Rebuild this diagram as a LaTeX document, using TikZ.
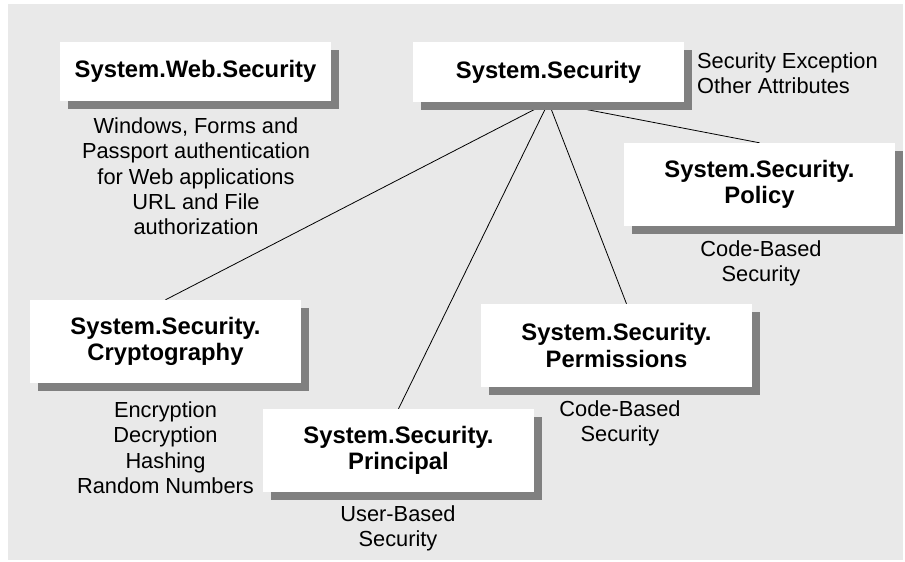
\documentclass[tikz,border=0pt]{standalone}
\usepackage{fontspec}
\setmainfont{Liberation Sans}
\usetikzlibrary{shadows}
\definecolor{bggray}{RGB}{233,233,233}
\definecolor{shadowgray}{RGB}{128,128,128}
\pgfdeclarelayer{back}
\pgfdeclarelayer{mid}
\pgfsetlayers{back,mid,main}
\begin{document}
\begin{tikzpicture}[x=1pt,y=-1pt,
  box/.style={fill=white, align=center, inner sep=0pt, minimum width=271pt,
    font=\fontsize{23.8}{26.5}\selectfont\bfseries,
    general shadow={fill=shadowgray, shadow xshift=8pt, shadow yshift=-8pt}},
  desc/.style={align=center, inner sep=0pt, font=\fontsize{21.8}{25.4}\selectfont, anchor=north},
  link/.style={draw=black, line width=0.8pt}]
\useasboundingbox (0,0) rectangle (905,562);
\begin{pgfonlayer}{back}
  \fill[white] (0,0) rectangle (905,562);
  \fill[bggray] (8,4) rectangle (903,560);
\end{pgfonlayer}

\node[box, minimum height=59pt] (web) at (195.5,71.5) {System.Web.Security};
\node[box, minimum height=60pt] (sys) at (548.5,72) {System.Security};
\node[box, minimum height=83pt] (pol) at (759.5,184.5) {System.Security.\\Policy};
\node[box, minimum height=83pt] (cry) at (165.5,341.5) {System.Security.\\Cryptography};
\node[box, minimum height=83pt] (perm) at (616.5,345.5) {System.Security.\\Permissions};
\node[box, minimum height=83pt] (pri) at (398.5,450.5) {System.Security.\\Principal};

\node[desc] (webd) at (196,117.4) {Windows, Forms and\\Passport authentication\\for Web applications\\URL and File\\authorization};
\node[desc, anchor=north west, align=left] (sysd) at (697,52.4) {Security Exception\\Other Attributes};
\node[desc] (pold) at (761,240.4) {Code-Based\\Security};
\node[desc] (cryd) at (165.5,401.4) {Encryption\\Decryption\\Hashing\\Random Numbers};
\node[desc] (permd) at (620,400.4) {Code-Based\\Security};
\node[desc] (prid) at (398,505.4) {User-Based\\Security};

\begin{pgfonlayer}{mid}
  \draw[link] (sys.south) -- (cry.north);
  \draw[link] (sys.south) -- (pri.north);
  \draw[link] (sys.south) -- ([xshift=10pt]perm.north);
  \draw[link] (sys.south) -- (pol.north);
\end{pgfonlayer}
\end{tikzpicture}
\end{document}
